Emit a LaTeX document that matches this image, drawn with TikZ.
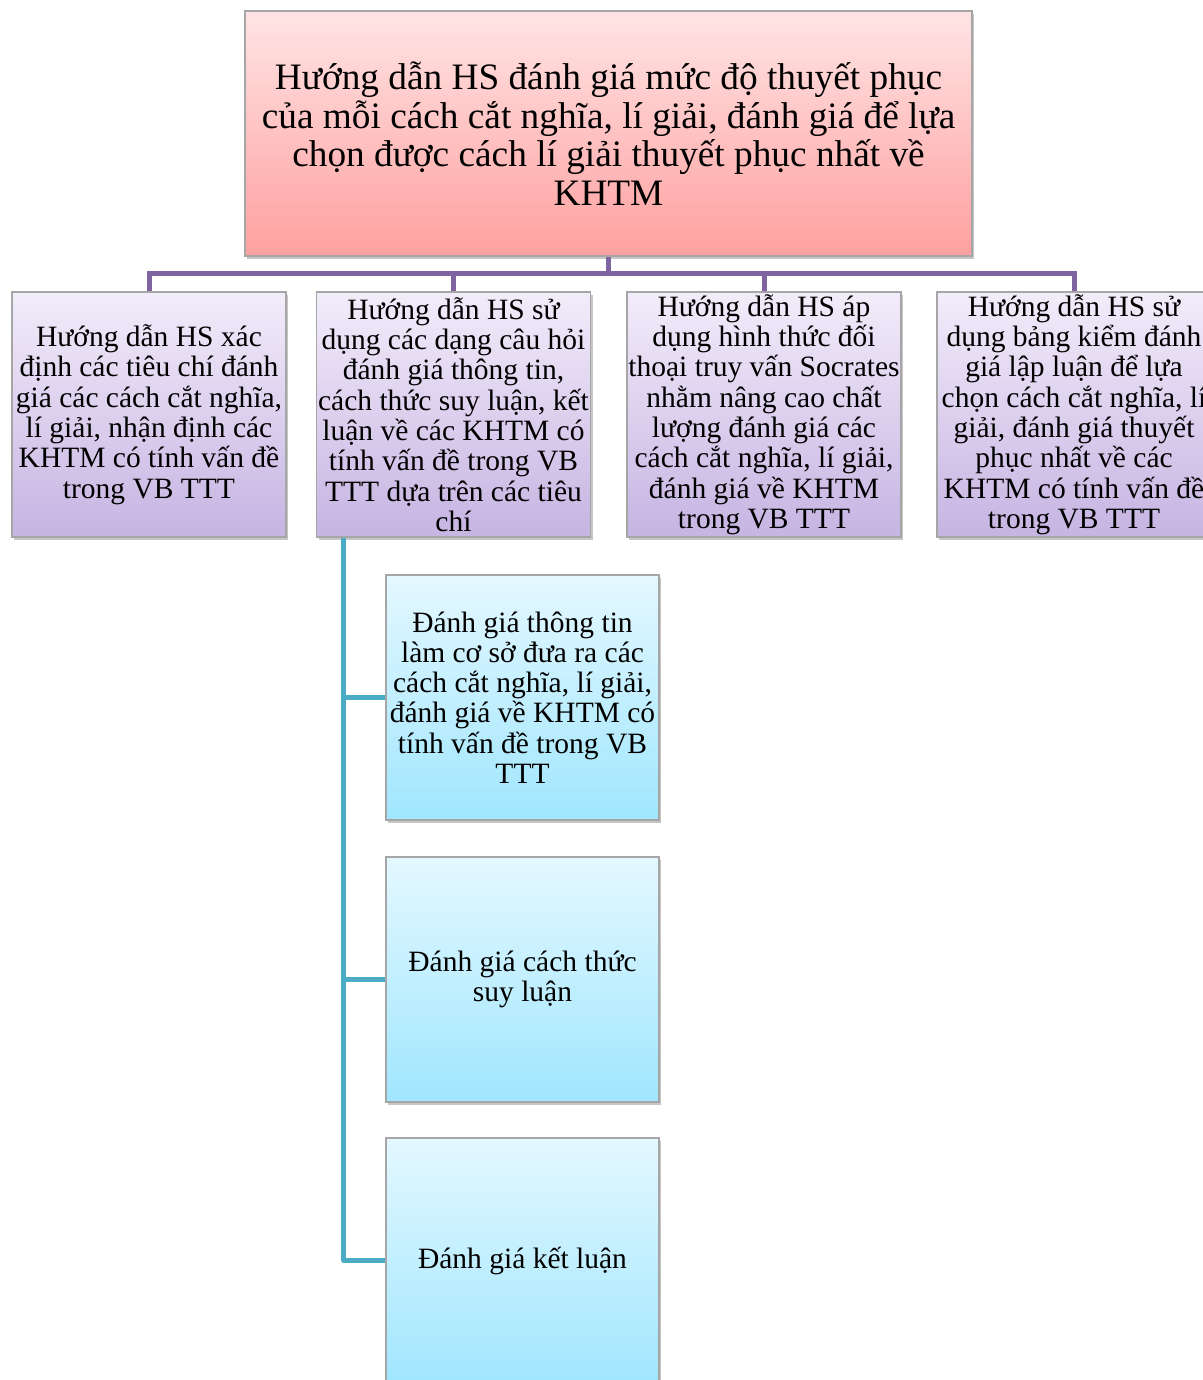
\documentclass[tikz,border=0pt]{standalone}
\usepackage{fontspec}
\setmainfont{Liberation Serif}
\usepackage{tikz}
\usetikzlibrary{shadows}
\definecolor{pinkT}{RGB}{255,228,228}
\definecolor{pinkB}{RGB}{255,160,160}
\definecolor{lavT}{RGB}{242,236,250}
\definecolor{lavB}{RGB}{198,180,226}
\definecolor{cyanT}{RGB}{228,248,255}
\definecolor{cyanB}{RGB}{160,230,254}
\definecolor{linkP}{RGB}{128,100,162}
\definecolor{linkC}{RGB}{75,172,198}
\tikzset{
  basebox/.style={rectangle, inner sep=0pt, align=center, draw=gray!70, line width=1.2pt,
                  drop shadow={shadow xshift=2pt, shadow yshift=-3pt, opacity=0.45, fill=gray}},
  topbox/.style={basebox, minimum width=727pt, minimum height=245pt,
                 top color=pinkT, bottom color=pinkB,
                 font=\fontsize{37.3}{38.5}\selectfont},
  guidebox/.style={basebox, minimum width=274pt, minimum height=245pt,
                   top color=lavT, bottom color=lavB,
                   font=\fontsize{29.5}{30.3}\selectfont},
  subbox/.style={basebox, minimum width=273pt, minimum height=245pt,
                 top color=cyanT, bottom color=cyanB,
                 font=\fontsize{29.5}{30.3}\selectfont},
  tlink/.style={linkP, line width=5pt},
  sublink/.style={linkC, line width=5pt, line join=round},
}
\begin{document}
\begin{tikzpicture}[x=1pt,y=-1pt]
  \useasboundingbox (0,0) rectangle (1202,1380);

  % top box
  \node[topbox] (top) at (608.5,133.5)
    {Hướng dẫn HS đánh giá mức độ thuyết phục\\
     của mỗi cách cắt nghĩa, lí giải, đánh giá để lựa\\
     chọn được cách lí giải thuyết phục nhất về\\
     KHTM};

  % second level
  \node[guidebox] (g1) at (149,414.5)
    {Hướng dẫn HS xác\\ định các tiêu chí đánh\\ giá các cách cắt nghĩa,\\
     lí giải, nhận định các\\ KHTM có tính vấn đề\\ trong VB TTT};
  \node[guidebox] (g2) at (453.5,414.5)
    {Hướng dẫn HS sử\\ dụng các dạng câu hỏi\\ đánh giá thông tin,\\
     cách thức suy luận, kết\\ luận về các KHTM có\\ tính vấn đề trong VB\\
     TTT dựa trên các tiêu\\ chí};
  \node[guidebox] (g3) at (764,414.5)
    {Hướng dẫn HS áp\\ dụng hình thức đối\\ thoại truy vấn Socrates\\
     nhằm nâng cao chất\\ lượng đánh giá các\\ cách cắt nghĩa, lí giải,\\
     đánh giá về KHTM\\ trong VB TTT};
  \node[guidebox] (g4) at (1074,414.5)
    {Hướng dẫn HS sử\\ dụng bảng kiểm đánh\\ giá lập luận để lựa\\
     chọn cách cắt nghĩa, lí\\ giải, đánh giá thuyết\\ phục nhất về các\\
     KHTM có tính vấn đề\\ trong VB TTT};

  % third level
  \node[subbox] (s1) at (522.5,697.5)
    {Đánh giá thông tin\\ làm cơ sở đưa ra các\\ cách cắt nghĩa, lí giải,\\
     đánh giá về KHTM có\\ tính vấn đề trong VB\\ TTT};
  \node[subbox] (s2) at (522.5,979.5) {Đánh giá cách thức\\ suy luận};
  \node[subbox] (s3) at (522.5,1260.5) {Đánh giá kết luận};

  % connectors
  \coordinate (bus) at (608.5,273);
  \draw[tlink] (top.south) -- (bus);
  \foreach \n in {g1,g2,g3,g4} \draw[tlink] (bus) -| (\n.north);
  \coordinate (spine) at ([xshift=28pt]g2.south west);
  \foreach \n in {s1,s2,s3} \draw[sublink] (spine) |- (\n.west);
\end{tikzpicture}
\end{document}
